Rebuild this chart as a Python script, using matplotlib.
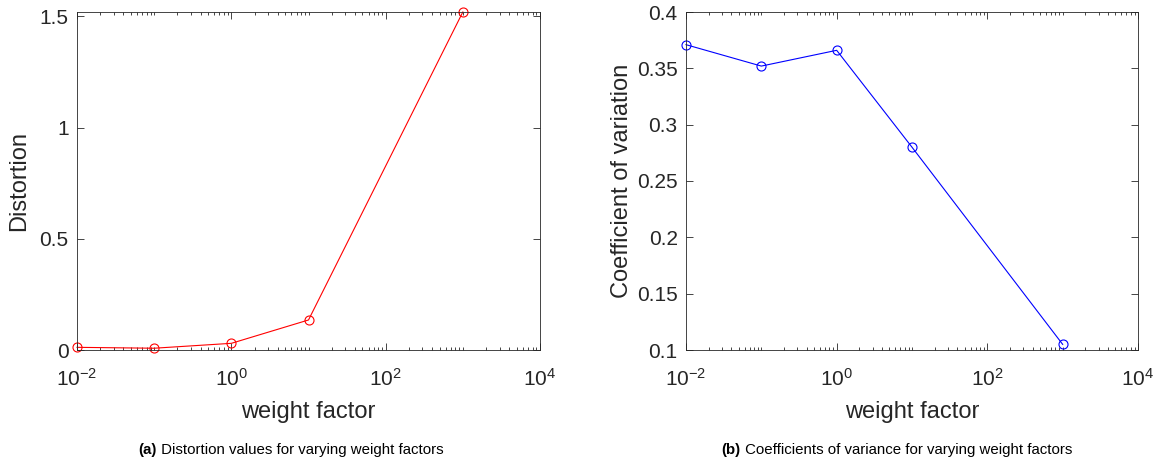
import numpy as np
import matplotlib.pyplot as plt
from matplotlib import font_manager
from matplotlib.ticker import LogLocator, NullFormatter

plt.rcParams['font.family'] = ['Liberation Sans', 'DejaVu Sans']
plt.rcParams['mathtext.fontset'] = 'custom'
plt.rcParams['mathtext.rm'] = 'Liberation Sans'
plt.rcParams['axes.unicode_minus'] = False

# narrow face for the captions if available
try:
    font_manager.findfont('Liberation Sans Narrow', fallback_to_default=False)
    cap_font = 'Liberation Sans Narrow'
except Exception:
    cap_font = 'Liberation Sans'

# data
weights = [0.01, 0.1, 1, 10, 1000]
distortion = [0.012, 0.008, 0.03, 0.135, 1.52]
cov = [0.371, 0.352, 0.366, 0.280, 0.105]

fig = plt.figure(figsize=(11.66, 4.67), dpi=100)
W, H = 1166, 467
ax1 = fig.add_axes([77 / W, (H - 350) / H, (540 - 77) / W, (350 - 12) / H])
ax2 = fig.add_axes([686 / W, (H - 350) / H, (1138 - 686) / W, (350 - 12) / H])

grey = '#262626'


def style(ax):
    ax.set_xscale('log')
    ax.set_xlim(1e-2, 1e4)
    ax.set_xticks([1e-2, 1e0, 1e2, 1e4])
    ax.xaxis.set_minor_locator(LogLocator(base=10, subs=np.arange(1, 10), numticks=50))
    ax.xaxis.set_minor_formatter(NullFormatter())
    ax.tick_params(which='both', direction='in', top=True, right=True,
                   colors=grey, labelsize=15, width=0.6)
    ax.tick_params(which='major', length=5, pad=6)
    ax.tick_params(axis='x', which='major', pad=13)
    ax.tick_params(which='minor', length=2.5)
    for s in ax.spines.values():
        s.set_color(grey)
        s.set_linewidth(0.6)
    ax.set_xlabel('weight factor', fontsize=17, color=grey)
    ax.xaxis.set_label_coords(0.5, -0.152)


ax1.plot(weights, distortion, color='red', lw=0.8, marker='o', ms=6.5,
         mfc='none', mew=0.8, clip_on=False)
style(ax1)
ax1.set_ylim(0, 1.52)
ax1.set_yticks([0, 0.5, 1, 1.5])
ax1.set_yticklabels(['0', '0.5', '1', '1.5'])
ax1.set_ylabel('Distortion', fontsize=17, color=grey)
ax1.yaxis.set_label_coords(-0.102, 0.5)

ax2.plot(weights, cov, color='blue', lw=0.8, marker='o', ms=6.5,
         mfc='none', mew=0.8, clip_on=False)
style(ax2)
ax2.set_ylim(0.1, 0.4)
ax2.set_yticks([0.1, 0.15, 0.2, 0.25, 0.3, 0.35, 0.4])
ax2.set_yticklabels(['0.1', '0.15', '0.2', '0.25', '0.3', '0.35', '0.4'])
ax2.set_ylabel('Coefficient of variation', fontsize=17, color=grey)
ax2.yaxis.set_label_coords(-0.117, 0.5)

# captions: bold tag followed by regular text, centred as one line
captions = [('(a)', ' Distortion values for varying weight factors', 291),
            ('(b)', ' Coefficients of variance for varying weight factors', 897)]
renderer = fig.canvas.get_renderer()
for tag, rest, cx in captions:
    y = 1 - 450 / H
    t1 = fig.text(0, y, tag, fontsize=10.8, weight='bold', family=cap_font,
                  va='center', ha='left')
    t2 = fig.text(0, y, rest, fontsize=10.8, family=cap_font,
                  va='center', ha='left')
    w1 = t1.get_window_extent(renderer).width
    w2 = t2.get_window_extent(renderer).width
    x0 = cx - (w1 + w2) / 2
    t1.set_x(x0 / W)
    t2.set_x((x0 + w1) / W)

fig.savefig('out.png', dpi=100)
